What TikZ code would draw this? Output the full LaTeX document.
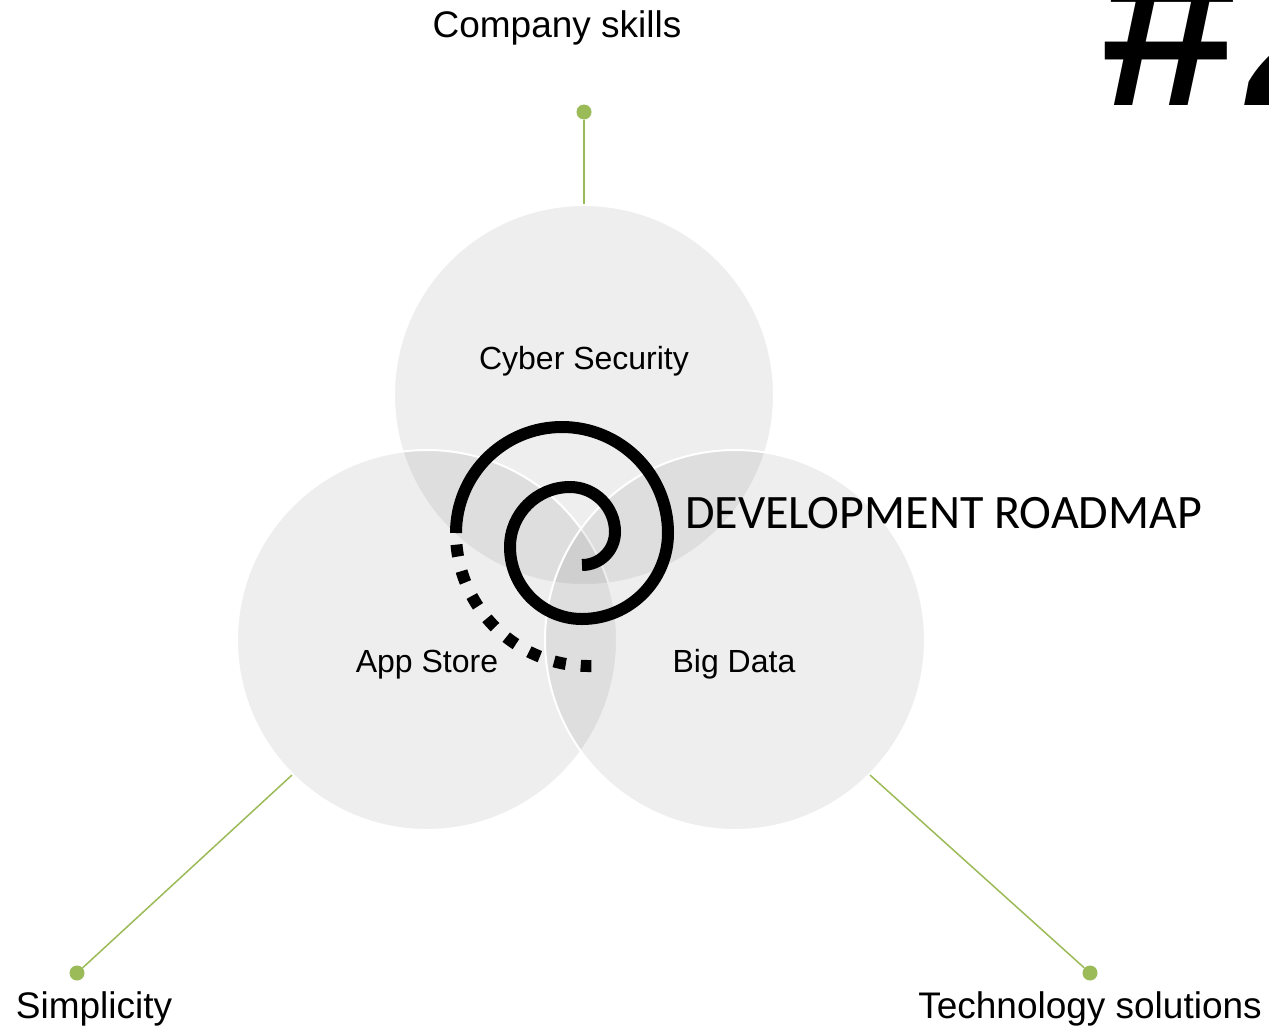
\documentclass[tikz,border=0pt]{standalone}
\usepackage{fontspec}
\setmainfont{Liberation Sans}
\newfontfamily\calibri{Carlito}
\definecolor{lgreen}{HTML}{9BBB59}
\begin{document}
\begin{tikzpicture}[x=1pt,y=-1pt,
  venn/.style={circle,minimum size=380pt,inner sep=0pt,fill=black,fill opacity=0.068,draw=white,line width=2pt},
  gdot/.style={circle,fill=lgreen,inner sep=0pt,minimum size=15pt},
  glink/.style={draw=lgreen,line width=1.5pt},
  lbl/.style={font=\fontsize{37}{40}\selectfont,anchor=base,inner sep=0pt},
  inlbl/.style={font=\fontsize{32}{36}\selectfont,anchor=base,inner sep=0pt},
  spiralline/.style={line width=12pt}]
\useasboundingbox (0,0) rectangle (1269,1029);
\fill[white] (0,0) rectangle (1269,1029);
\begin{scope}
\clip (0,0) rectangle (1269,1029);
\node[anchor=base west,inner sep=0pt,font=\bfseries\itshape\fontsize{245}{245}\selectfont] (num) at (1097,105) {\#\kern15pt 2};
\end{scope}
% circles
\node[venn] (cTop) at (584,395) {};
\node[venn] (cLeft) at (427,640) {};
\node[venn] (cRight) at (735,640) {};
% connectors and dots
\node[gdot] (dTop) at (584,112) {};
\node[gdot] (dLeft) at (77,973) {};
\node[gdot] (dRight) at (1090,973) {};
\draw[glink] (dTop) -- (cTop.north);
\draw[glink] (dLeft) -- (cLeft.225);
\draw[glink] (dRight) -- (cRight.-45);
% outer labels
\node[lbl] (tTop) at (557,37) {Company skills};
\node[lbl] (tLeft) at (94,1018) {Simplicity};
\node[lbl] (tRight) at (1090,1018) {Technology solutions};
% inner labels
\node[inlbl] (iTop) at (584,369) {Cyber Security};
\node[inlbl] (iLeft) at (427,672) {App Store};
\node[inlbl] (iRight) at (734,672) {Big Data};
% spiral
\coordinate (s0) at (582,565);
\draw[spiralline] (s0) arc (90:0:33) arc (0:-90:45) arc (-90:-180:60) arc (-180:-270:72) arc (90:0:86) arc (0:-180:106);
\coordinate (s2) at (456.5,544.6);
\draw[spiralline,dash pattern=on 12pt off 15pt] (s2) arc (175:89:133);
\node[anchor=base west,inner sep=0pt,font=\calibri\fontsize{48}{50}\selectfont] (title) at (685,528) {DEVELOPMENT ROADMAP};
\end{tikzpicture}
\end{document}
